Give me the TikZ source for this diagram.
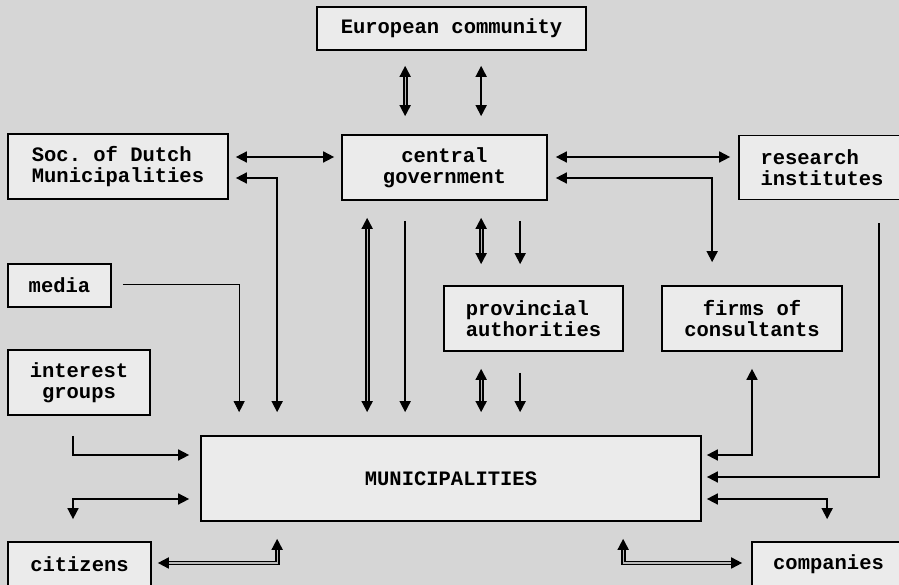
\documentclass[tikz,border=0pt]{standalone}
\usepackage{fontspec}
\setmonofont{Liberation Mono}
\usetikzlibrary{arrows.meta,calc}
\definecolor{paper}{HTML}{D6D6D6}
\definecolor{boxfill}{HTML}{EBEBEB}
\tikzset{
  box/.style={draw=black, line width=1.7pt, fill=boxfill, inner sep=0pt,
    font=\ttfamily\bfseries\fontsize{20.5}{21}\selectfont, text=black},
  tip/.style={-{Triangle[length=11pt,width=11pt]}},
  tips/.style={{Triangle[length=11pt,width=11pt]}-{Triangle[length=11pt,width=11pt]}},
  link/.style={line width=1.6pt, black},
  dbl/.style={line width=1.8pt, black, double=gray!55, double distance=1.2pt},
  faint/.style={line width=0.8pt, black},
}
\begin{document}
\begin{tikzpicture}[x=1pt,y=1pt]
  \fill[paper] (0,0) rectangle (899,585);
  \useasboundingbox (0,0) rectangle (899,585);
  \clip (0,0) rectangle (899,585);

  % organisations
  \node[box, minimum width=269pt, minimum height=43pt] (eu) at (451.5,556.5) {European community};
  \node[box, minimum width=220pt, minimum height=65pt, align=left] (soc) at (118,418.5) {Soc. of Dutch\\Municipalities};
  \node[box, minimum width=205pt, minimum height=65pt, align=center] (cg) at (444.5,417.5) {central\\government};
  \node[box, minimum width=166pt, minimum height=64pt, align=left] (res) at (822,417.5) {research\\institutes};
  \node[box, minimum width=103pt, minimum height=43pt] (media) at (59.5,299.5) {media};
  \node[box, minimum width=142pt, minimum height=65pt, align=center] (ig) at (79,202.5) {interest\\groups};
  \node[box, minimum width=179pt, minimum height=65pt, align=left] (prov) at (533.5,266.5) {provincial\\authorities};
  \node[box, minimum width=180pt, minimum height=65pt, align=center] (firms) at (752,266.5) {firms of\\consultants};
  \node[box, minimum width=500pt, minimum height=85pt] (mun) at (451,106.5) {MUNICIPALITIES};
  \node[box, minimum width=143pt, minimum height=44pt] (cit) at (79.5,21) {citizens};
  \node[box, minimum width=153pt, minimum height=44pt] (comp) at (828.5,21) {companies};

  % European community -- central government
  \draw[dbl,tips]  ($(eu.south west)+(89,-15)$)  -- ($(cg.north west)+(64,18)$);
  \draw[link,tips] ($(eu.south west)+(165,-15)$) -- ($(cg.north west)+(140,18)$);

  % society of municipalities
  \draw[link,tips] ($(soc.east)+(7,9.5)$) -- ($(cg.west)+(-7,10.5)$);
  \draw[link,tips] ($(soc.east)+(7,-11.5)$) -| ($(mun.north west)+(77,23)$);

  % research institutes and consultants
  \draw[link,tips] ($(cg.east)+(8,10.5)$) -- ($(res.west)+(-8,10.5)$);
  \draw[link,tips] ($(cg.east)+(8,-10.5)$) -| ($(firms.north west)+(51,23)$);
  \draw[link,tip]  ($(res.south west)+(141,-23)$) |- ($(mun.east)+(5,1.5)$);
  \draw[link,tips] ($(firms.south)+(0,-17)$) |- ($(mun.east)+(5,23.5)$);

  % companies
  \draw[link,tips] ($(mun.east)+(5,-20.5)$) -| ($(comp.north west)+(76,22)$);
  \draw[dbl,tips]  ($(mun.south west)+(423,-17)$) |- ($(comp.west)+(-9,1)$);

  % citizens and interest groups
  \draw[dbl,tips]  ($(mun.south west)+(77,-17)$) |- ($(cit.east)+(6,1)$);
  \draw[link,tip]  ($(ig.south)+(-6,-20)$) |- ($(mun.west)+(-11,23.5)$);
  \draw[link,tips] ($(mun.west)+(-11,-20.5)$) -| ($(cit.north)+(-6.5,22)$);

  % media
  \draw[faint,tip] ($(media.east)+(11,1.5)$) -| ($(mun.north west)+(39,23)$);

  % central government -- municipalities
  \draw[dbl,tips]  ($(cg.south west)+(26,-17)$) -- ($(mun.north west)+(167,23)$);
  \draw[link,tip]  ($(cg.south west)+(64,-20)$) -- ($(mun.north west)+(205,23)$);

  % central government -- provinces -- municipalities
  \draw[dbl,tips]  ($(cg.south west)+(140,-17)$) -- ($(prov.north west)+(38,21)$);
  \draw[link,tip]  ($(cg.south west)+(179,-20)$) -- ($(prov.north west)+(77,21)$);
  \draw[dbl,tips]  ($(prov.south west)+(38,-17)$) -- ($(mun.north west)+(281,23)$);
  \draw[link,tip]  ($(prov.south west)+(77,-21)$) -- ($(mun.north west)+(320,23)$);
\end{tikzpicture}
\end{document}
